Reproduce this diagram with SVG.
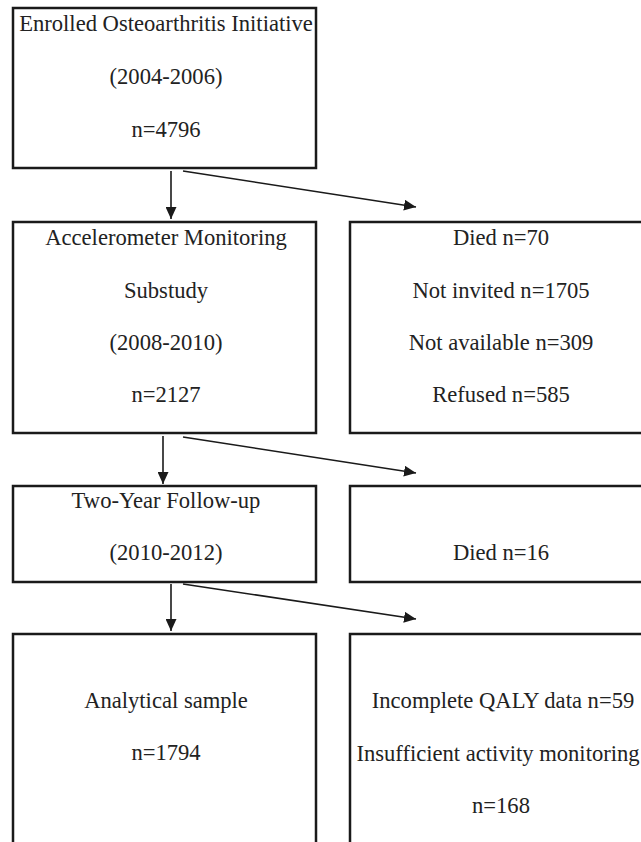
<svg xmlns="http://www.w3.org/2000/svg" width="641" height="842" viewBox="0 0 641 842">
<style>
.box{fill:#ffffff;stroke:#1a1a1a;stroke-width:2.5}
.t{font-family:"Liberation Serif","Times New Roman",serif;font-size:22.6px;fill:#222;text-anchor:middle}
.c{stroke:#1a1a1a;stroke-width:1.6;fill:none}
</style>
<defs>
<marker id="ah" viewBox="0 0 12 11" refX="12" refY="5.5" markerWidth="12" markerHeight="11" markerUnits="userSpaceOnUse" orient="auto">
<path d="M0,0 L12,5.5 L0,11 z" fill="#1a1a1a"/>
</marker>
</defs>
<rect width="641" height="842" fill="#ffffff"/>
<g id="enrolled">
<rect class="box" x="13" y="8" width="303" height="160"/>
<text class="t" x="166" y="31">Enrolled Osteoarthritis Initiative</text>
<text class="t" x="166" y="84">(2004-2006)</text>
<text class="t" x="166" y="137">n=4796</text>
</g>
<g id="accelerometer">
<rect class="box" x="13" y="222" width="303" height="211"/>
<text class="t" x="166" y="245">Accelerometer Monitoring</text>
<text class="t" x="166" y="298">Substudy</text>
<text class="t" x="166" y="350">(2008-2010)</text>
<text class="t" x="166" y="402">n=2127</text>
</g>
<g id="excluded1">
<rect class="box" x="350" y="222" width="302" height="211"/>
<text class="t" x="501" y="245">Died n=70</text>
<text class="t" x="501" y="298">Not invited n=1705</text>
<text class="t" x="501" y="350">Not available n=309</text>
<text class="t" x="501" y="402">Refused n=585</text>
</g>
<g id="followup">
<rect class="box" x="13" y="486" width="303" height="96"/>
<text class="t" x="166" y="508">Two-Year Follow-up</text>
<text class="t" x="166" y="560">(2010-2012)</text>
</g>
<g id="excluded2">
<rect class="box" x="350" y="486" width="302" height="96"/>
<text class="t" x="501" y="560">Died n=16</text>
</g>
<g id="analytical">
<rect class="box" x="13" y="634" width="303" height="230"/>
<text class="t" x="166" y="708">Analytical sample</text>
<text class="t" x="166" y="760">n=1794</text>
</g>
<g id="excluded3">
<rect class="box" x="350" y="634" width="302" height="230"/>
<text class="t" x="503" y="708">Incomplete QALY data n=59</text>
<text class="t" x="498" y="761">Insufficient activity monitoring</text>
<text class="t" x="501" y="813">n=168</text>
</g>
<g id="connectors">
<line class="c" x1="171" y1="171" x2="171" y2="219" marker-end="url(#ah)"/>
<line class="c" x1="183" y1="171" x2="416" y2="207" marker-end="url(#ah)"/>
<line class="c" x1="163" y1="436" x2="163" y2="484" marker-end="url(#ah)"/>
<line class="c" x1="183" y1="437" x2="416" y2="473" marker-end="url(#ah)"/>
<line class="c" x1="171" y1="584" x2="171" y2="631" marker-end="url(#ah)"/>
<line class="c" x1="183" y1="584" x2="416" y2="619" marker-end="url(#ah)"/>
</g>
</svg>
